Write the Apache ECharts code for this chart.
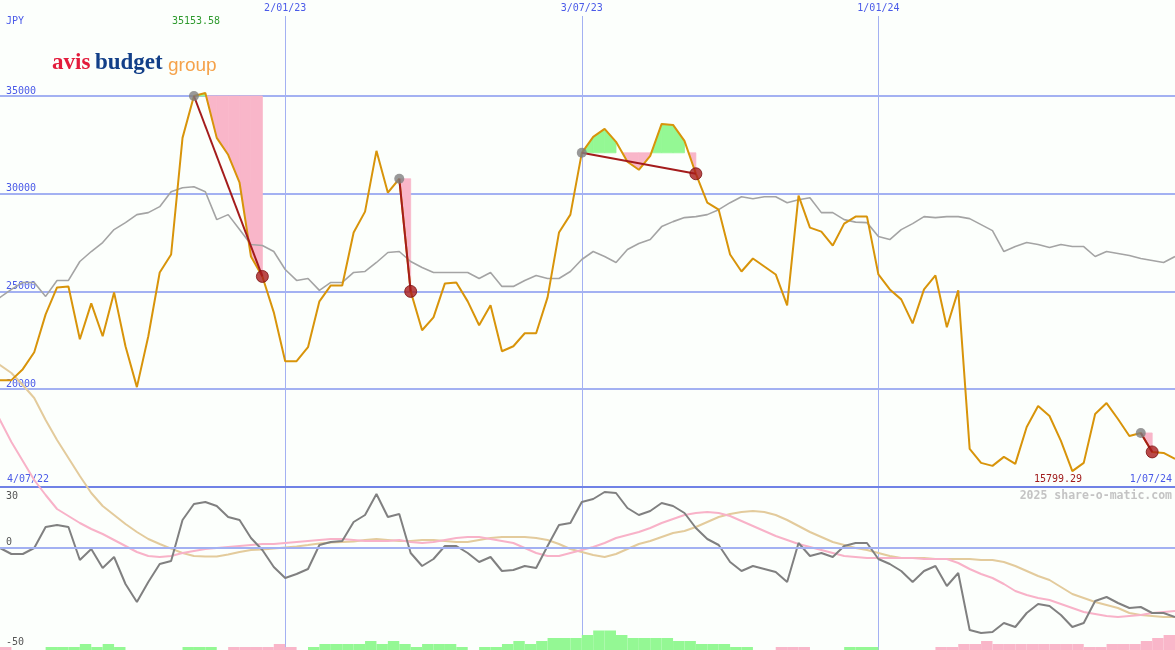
<!DOCTYPE html>
<html><head><meta charset="utf-8">
<script src="https://cdn.jsdelivr.net/npm/echarts@6/dist/echarts.min.js"></script>
<style>html,body{margin:0;padding:0;background:#fcfffc}#c{width:1175px;height:650px}</style>
</head><body><div id="c"></div><script>
// ---- data (weekly, Mondays) ----
const startDate = [2022, 6, 4];   // 4 Jul 2022
const weekCount = 105;
const markedDates = ['2/01/23', '3/07/23', '1/01/24'];
const priceTicks = [20000, 25000, 30000, 35000];
const oscTicks = [-50, 0, 30];

const price = [20459,20459,20459,21020,21888,23826,25204,25250,22551,24388,
 22704,24949,22194,20102,22704,25969,26888,32857,35000,35153.58,
 32857,31990,30561,26786,25765,23929,21429,21429,22143,24490,
 25306,25306,28010,29082,32194,30051,30765,25000,23010,23673,
 25408,25459,24490,23265,24286,21939,22194,22857,22857,24694,
 28010,28929,32092,32908,33316,32653,31633,31224,31939,33571,
 33520,32704,31020,29541,29184,26888,26020,26684,26276,25867,
 24286,29898,28265,28061,27347,28469,28827,28827,25867,25102,
 24592,23367,25102,25816,23163,25051,16939,16224,16071,16531,
 16173,18061,19133,18622,17347,15799.29,16224,18724,19286,18469,
 17602,17755,16786,16735,16429];

const priceMA = [24500,24694,25102,25459,25459,24745,25561,25561,26531,27041,
 27500,28163,28520,28929,29031,29337,30102,30306,30357,30102,
 28673,28929,28163,27398,27347,27041,26122,25561,25663,25051,
 25459,25459,25969,26020,26480,26990,27041,26531,26224,25969,
 25969,25969,25969,25663,25969,25255,25255,25561,25816,25663,
 25663,26020,26633,27041,26786,26480,27143,27449,27653,28316,
 28571,28776,28827,28929,29184,29541,29847,29745,29847,29847,
 29541,29694,29796,29031,29031,28673,28545,28520,27806,27653,
 28163,28469,28827,28776,28827,28827,28724,28418,28112,27041,
 27296,27500,27398,27245,27398,27296,27296,26786,27041,26939,
 26837,26684,26582,26480,26786];

const osc = [2,0,-3,-3,0,10.5,11.5,10.5,-6,-0.5,
 -10,-4.5,-18,-27,-17,-8,-6.5,14,22,23,
 21,15.5,14,5,-1,-9.5,-15,-13,-10.5,1.5,
 3,3.5,13,16.5,27,15.5,17,-2.5,-9,-5.5,
 1,1,-2.5,-7,-4.5,-11.5,-11,-9,-10,1,
 11.5,12.5,23,24.5,28,27.5,20,16.5,18.5,22.5,
 21,17.5,10,4.5,1.5,-7,-11.5,-9,-10.5,-12,
 -17,2.5,-4,-2.5,-4.5,1,2.5,2.5,-5.5,-8,
 -11.5,-17,-11.5,-9,-19,-12.5,-41,-42.5,-42,-37.5,
 -39.5,-32.5,-28,-29,-33.5,-39.5,-37.5,-26.5,-24.5,-27.5,
 -30,-29.5,-32.5,-32.5,-34.5];

const oscPink = [75,64,53,43.5,34,26.5,19.5,16,12.5,9.5,
 7,4,1,-2,-4,-4.5,-4,-2.5,-1.5,-0.5,
 0,0.5,1,1.5,2,2,2.5,3,3.5,4,
 4.5,4.5,4,3.5,3.5,3.5,4,3,2.5,3,
 4,5,5.5,5.5,4.5,3.5,2.5,0,-2.5,-4,
 -4,-2.5,-1,0.5,2.5,5,6.5,8,10,12.5,
 14.5,16.5,17.5,18,17.5,16,13.5,11,8.5,6,
 4,2,0.5,-1,-2.5,-4,-4.5,-5,-5,-5,
 -5,-5,-5.5,-5.5,-5.5,-7.5,-10.5,-13,-15,-18,
 -21.5,-23.5,-25,-26,-28,-30,-32,-33,-34,-34.5,
 -34,-33.5,-32.5,-32,-31.5];

const oscTan = [96,91.5,87.5,81.5,75,64,54,45,36,27.5,
 21,16.5,12,8,4.5,2,-0.3,-2.5,-4,-4.3,
 -4.3,-3.2,-2,-1,-0.7,-0.3,0.3,0.8,1.5,2.3,
 2.7,3,3.3,4,4.5,4,3.5,3.5,4,4,
 3.5,3,3,4,5,5.5,5.5,5.5,5,4,
 2,-0.5,-2,-3.5,-4.5,-3,-0.5,2,3.5,5.5,
 7.5,8.5,10.5,13,15.5,17,18,18.5,18,16.5,
 14,11,8,5.5,3,1.5,0,-1,-2.5,-4,
 -5,-5,-5,-5.5,-5.5,-5.5,-5.5,-6,-6,-7,
 -9,-11.5,-14,-16,-19.5,-23,-25,-27,-28.5,-30,
 -32.5,-33.5,-34,-34.5,-34.5];

// one value per week-to-week step (positive green, negative pink)
const histogram = [-1,-1,0,0,0,1,1,1,2,1,
 2,1,0,0,0,0,0,1,1,1,
 0,-1,-1,-1,-1,-2,-1,0,1,2,
 2,2,2,3,2,3,2,1,2,2,
 2,1,0,1,1,2,3,2,3,4,
 4,4,5,6.5,6.5,5,4,4,4,4,
 3,3,2,2,2,1,1,0,0,-1,
 -1,-1,0,0,0,1,1,1,0,0,
 0,0,0,-1,-1,-2,-2,-3,-2,-2,
 -2,-2,-2,-2,-2,-2,-1,-1,-2,-2,
 -2,-3,-4,-5];

// drawdown annotations: [start index, end index]
const drawdowns = [[18, 24], [36, 37], [52, 62], [101, 102]];

// ---- build ----
function fmt(d) {
  return d.getUTCDate() + '/' + String(d.getUTCMonth() + 1).padStart(2, '0') + '/' + String(d.getUTCFullYear()).slice(2);
}
const dates = [];
const t0 = Date.UTC(startDate[0], startDate[1], startDate[2]);
for (let i = 0; i < weekCount; i++) dates.push(fmt(new Date(t0 + i * 7 * 86400000)));

const BLUE = '#4a5ae8', GRIDC = '#a3b1f2', DARK = '#7082e6';
const MONO = '"DejaVu Sans Mono", monospace';
const GREEN = '#94f894', PINK = '#f9b6c9';
const GL = -11.41;

const fillData = [];
drawdowns.forEach((d, a) => { for (let k = d[0]; k < d[1]; k++) fillData.push([k, a, price[d[0]]]); });

function renderFill(params, api) {
  const k = api.value(0), a = api.value(1);
  const s = drawdowns[a][0];
  const L = price[s], p0 = price[k], p1 = price[k + 1];
  const up = p1 > L;
  const sg = up ? 1 : -1;
  const d0 = sg * (p0 - L), d1 = sg * (p1 - L);
  const A = api.coord([k, p0]), B = api.coord([k + 1, p1]);
  const yL = api.coord([k, L])[1];
  let pts;
  if (d0 >= 0) pts = [[A[0], yL], A, B, [B[0], yL]];
  else {
    const t = d0 / (d0 - d1);
    const xc = A[0] + (B[0] - A[0]) * t;
    pts = [[xc, yL], B, [B[0], yL]];
  }
  const c = up ? GREEN : PINK;
  return { type: 'polygon', shape: { points: pts }, style: { fill: c, stroke: c, lineWidth: 0.8 } };
}

const maxV = Math.max(...price), minV = Math.min(...price);
const gridBase = { left: GL, right: 0, outerBoundsMode: 'none', containLabel: false };

const chart = echarts.init(document.getElementById('c'), null, { renderer: 'canvas' });
const option = {
  animation: false,
  backgroundColor: '#fcfffc',
  grid: [
    Object.assign({ top: -1.7, height: 488.5 }, gridBase),
    Object.assign({ top: 16, height: 634 }, gridBase),
    Object.assign({ top: 620, height: 30 }, gridBase)
  ],
  xAxis: [
    { gridIndex: 0, type: 'category', data: dates, boundaryGap: false, position: 'bottom',
      axisLine: { show: true, onZero: false, lineStyle: { color: DARK, width: 2 } },
      axisTick: { show: false }, axisLabel: { show: false }, splitLine: { show: false } },
    { gridIndex: 1, type: 'category', data: dates, boundaryGap: false, position: 'top',
      axisLine: { show: false, onZero: false }, axisTick: { show: false },
      axisLabel: { show: true, interval: (i, v) => markedDates.includes(v), color: BLUE, fontFamily: MONO, fontSize: 10, margin: 3 },
      splitLine: { show: true, interval: (i, v) => markedDates.includes(v), lineStyle: { color: GRIDC, width: 1 } } },
    { gridIndex: 2, type: 'category', data: dates.slice(0, weekCount - 1), boundaryGap: true, show: false }
  ],
  yAxis: [
    { gridIndex: 0, type: 'value', min: 15000, max: 40000, interval: 5000,
      axisLine: { show: false }, axisTick: { show: false },
      axisLabel: { inside: true, margin: 17.4, verticalAlign: 'bottom', color: BLUE, fontFamily: MONO, fontSize: 10,
        formatter: v => priceTicks.includes(v) ? String(v) : '' },
      splitLine: { show: true, lineStyle: { color: GRIDC, width: 2 } } },
    { gridIndex: 1, type: 'value', min: -51, max: 266,
      axisLine: { show: false }, axisTick: { show: false }, splitLine: { show: false },
      axisLabel: { customValues: oscTicks, inside: true, margin: 17.4, verticalAlign: 'middle', color: '#555', fontFamily: MONO, fontSize: 10,
        formatter: v => v === 30 ? '{lo|30}' : '{hi|' + v + '}',
        rich: { lo: { padding: [16, 0, 0, 0], color: '#555', fontFamily: MONO, fontSize: 10 },
                hi: { padding: [0, 0, 12, 0], color: '#555', fontFamily: MONO, fontSize: 10 } } } },
    { gridIndex: 2, type: 'value', min: 0, max: 10, show: false, splitLine: { show: false } }
  ],
  series: [
    { type: 'bar', xAxisIndex: 2, yAxisIndex: 2, barWidth: '100%', barCategoryGap: '0%', z: 1,
      data: histogram.map(v => ({ value: Math.abs(v), itemStyle: { color: v >= 0 ? GREEN : PINK } })) },
    { type: 'line', xAxisIndex: 1, yAxisIndex: 1, data: oscTan, symbol: 'none', z: 2,
      lineStyle: { color: '#e3cb9c', width: 2 },
      markLine: { silent: true, symbol: 'none', label: { show: false }, data: [{ yAxis: 0 }],
        lineStyle: { color: GRIDC, width: 2, type: 'solid' } } },
    { type: 'line', xAxisIndex: 1, yAxisIndex: 1, data: oscPink, symbol: 'none', z: 2,
      lineStyle: { color: '#f8b2c8', width: 2 } },
    { type: 'line', xAxisIndex: 1, yAxisIndex: 1, data: osc, symbol: 'none', z: 3,
      lineStyle: { color: '#808080', width: 2 } },
    { type: 'custom', xAxisIndex: 0, yAxisIndex: 0, data: fillData, renderItem: renderFill, z: 3,
      encode: { x: 0, y: 2 } },
    { type: 'line', xAxisIndex: 0, yAxisIndex: 0, data: priceMA, symbol: 'none', z: 4,
      lineStyle: { color: '#a4a4a4', width: 1.6 } },
    { type: 'line', xAxisIndex: 0, yAxisIndex: 0, data: price, symbol: 'none', z: 5,
      lineStyle: { color: '#d8940a', width: 2 } },
    ...drawdowns.map(d => ({ type: 'line', xAxisIndex: 0, yAxisIndex: 0, symbol: 'none', z: 6,
      data: [[d[0], price[d[0]]], [d[1], price[d[1]]]], lineStyle: { color: '#a41c1c', width: 2 } })),
    { type: 'scatter', xAxisIndex: 0, yAxisIndex: 0, symbolSize: 10, z: 7,
      itemStyle: { color: '#808080' }, data: drawdowns.map(d => [d[0], price[d[0]]]) },
    { type: 'scatter', xAxisIndex: 0, yAxisIndex: 0, symbolSize: 12, z: 7,
      itemStyle: { color: '#a81c1c', borderColor: '#7a1010', borderWidth: 1 }, data: drawdowns.map(d => [d[1], price[d[1]]]) }
  ],
  graphic: [
    { type: 'text', x: 6, y: 21, style: { text: 'JPY', fill: BLUE, font: '10px ' + MONO, align: 'left', verticalAlign: 'middle' } },
    { type: 'text', x: 196, y: 21, style: { text: maxV.toFixed(2), fill: '#2e9a2e', font: '10px ' + MONO, align: 'center', verticalAlign: 'middle' } },
    { type: 'text', x: 1058, y: 479, style: { text: minV.toFixed(2), fill: '#a01c1c', font: '10px ' + MONO, align: 'center', verticalAlign: 'middle' } },
    { type: 'text', x: 7, y: 479, style: { text: dates[0], fill: BLUE, font: '10px ' + MONO, align: 'left', verticalAlign: 'middle' } },
    { type: 'text', x: 1172, y: 479, style: { text: dates[weekCount - 1], fill: BLUE, font: '10px ' + MONO, align: 'right', verticalAlign: 'middle' } },
    { type: 'text', x: 1172, y: 496, style: { text: '2025 share-o-matic.com', fill: '#c4c4c4', font: 'bold 11.5px ' + MONO, align: 'right', verticalAlign: 'middle' } },
    { type: 'text', x: 52, y: 75, style: { text: 'avis', fill: '#e31b3b', font: 'bold 23px "Liberation Serif"', align: 'left', verticalAlign: 'bottom' } },
    { type: 'text', x: 95, y: 75, style: { text: 'budget', fill: '#123f88', font: 'bold 23px "Liberation Serif"', align: 'left', verticalAlign: 'bottom' } },
    { type: 'text', x: 168, y: 75, style: { text: 'group', fill: '#f5a24a', font: '19px "Liberation Sans"', align: 'left', verticalAlign: 'bottom' } }
  ]
};
chart.setOption(option);
</script></body></html>
